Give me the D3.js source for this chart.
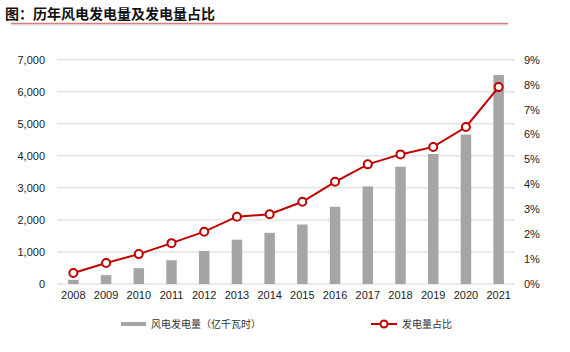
<!DOCTYPE html>
<html>
<head>
<meta charset="utf-8">
<title>历年风电发电量及发电量占比</title>
<script src="https://d3js.org/d3.v7.min.js"></script>
<style>
  body { margin: 0; background: #fff; }
  svg { display: block; }
</style>
</head>
<body>
<div id="chart"></div>
<script>
// data
var years = ["2008","2009","2010","2011","2012","2013","2014","2015","2016","2017","2018","2019","2020","2021"];
var windGen = [131, 276, 494, 741, 1030, 1383, 1598, 1856, 2409, 3046, 3660, 4057, 4665, 6526];
var windShare = [0.44, 0.84, 1.2, 1.64, 2.1, 2.7, 2.8, 3.3, 4.1, 4.8, 5.2, 5.5, 6.3, 7.9];
var leftTicks = [0, 1000, 2000, 3000, 4000, 5000, 6000, 7000];
var rightTicks = [0, 1, 2, 3, 4, 5, 6, 7, 8, 9];

var W = 570, H = 352;
var plotL = 57, plotR = 515, plotT = 59.7, plotB = 284;
var red = "#c00000", gray = "#a5a5a5", grid = "#e3e3e3";
var numFont = "'Liberation Sans', Arial, sans-serif";
var cjkFont = "'Noto Sans CJK SC', sans-serif";

var svg = d3.select("#chart").append("svg")
  .attr("width", W)
  .attr("height", H);

// title + red underline
svg.append("text")
  .attr("x", 5).attr("y", 19)
  .attr("font-family", cjkFont)
  .attr("font-weight", "bold")
  .attr("font-size", 14)
  .attr("fill", "#111")
  .text("图：历年风电发电量及发电量占比");
svg.append("line")
  .attr("x1", 11).attr("x2", 508)
  .attr("y1", 25).attr("y2", 25)
  .attr("stroke", "#ececec").attr("stroke-width", 2);
svg.append("line")
  .attr("x1", 11).attr("x2", 508)
  .attr("y1", 23.5).attr("y2", 23.5)
  .attr("stroke", "#d9807f").attr("stroke-width", 1.5);

// scales
var x = d3.scaleBand().domain(years).range([plotL, plotR]);
var y = d3.scaleLinear().domain([0, 7000]).range([plotB, plotT]);
var y2 = d3.scaleLinear().domain([0, 9]).range([plotB, plotT]);

// gridlines
svg.append("g").selectAll("line")
  .data(leftTicks)
  .enter().append("line")
  .attr("x1", plotL).attr("x2", plotR)
  .attr("y1", function(d) { return y(d); })
  .attr("y2", function(d) { return y(d); })
  .attr("stroke", grid)
  .attr("stroke-width", 1.5);

// left axis
var yAxis = svg.append("g")
  .attr("transform", "translate(" + 45 + ",0)")
  .call(d3.axisLeft(y).tickValues(leftTicks).tickSize(0).tickPadding(0)
    .tickFormat(d3.format(",")));
yAxis.select(".domain").remove();
yAxis.selectAll("text")
  .attr("font-family", numFont).attr("font-size", 11).attr("fill", "#222");

// right axis
var y2Axis = svg.append("g")
  .attr("transform", "translate(" + 524 + ",0)")
  .call(d3.axisRight(y2).tickValues(rightTicks).tickSize(0).tickPadding(0)
    .tickFormat(function(d) { return d + "%"; }));
y2Axis.select(".domain").remove();
y2Axis.selectAll("text")
  .attr("font-family", numFont).attr("font-size", 11).attr("fill", "#222");

// x axis
var xAxis = svg.append("g")
  .attr("transform", "translate(0," + (plotB + 7) + ")")
  .call(d3.axisBottom(x).tickSize(0).tickPadding(0));
xAxis.select(".domain").remove();
xAxis.selectAll("text")
  .attr("font-family", numFont).attr("font-size", 11).attr("fill", "#222");

// bars
var barW = 10.5;
svg.append("g").selectAll("rect")
  .data(windGen)
  .enter().append("rect")
  .attr("x", function(d, i) { return x(years[i]) + x.bandwidth() / 2 - barW / 2; })
  .attr("y", function(d) { return y(d); })
  .attr("width", barW)
  .attr("height", function(d) { return plotB - y(d); })
  .attr("fill", gray);

// share line
var line = d3.line()
  .x(function(d, i) { return x(years[i]) + x.bandwidth() / 2; })
  .y(function(d) { return y2(d); });
svg.append("path")
  .attr("d", line(windShare))
  .attr("fill", "none")
  .attr("stroke", red)
  .attr("stroke-width", 2);
svg.append("g").selectAll("circle")
  .data(windShare)
  .enter().append("circle")
  .attr("cx", function(d, i) { return x(years[i]) + x.bandwidth() / 2; })
  .attr("cy", function(d) { return y2(d); })
  .attr("r", 4)
  .attr("fill", "#fff")
  .attr("stroke", red)
  .attr("stroke-width", 2);

// legend
var lg = svg.append("g");
lg.append("rect")
  .attr("x", 121).attr("y", 322).attr("width", 25).attr("height", 4)
  .attr("fill", gray);
lg.append("text")
  .attr("x", 151).attr("y", 328)
  .attr("font-family", cjkFont).attr("font-size", 10).attr("fill", "#333")
  .text("风电发电量（亿千瓦时）");
lg.append("line")
  .attr("x1", 371).attr("x2", 397).attr("y1", 324).attr("y2", 324)
  .attr("stroke", red).attr("stroke-width", 2);
lg.append("circle")
  .attr("cx", 384).attr("cy", 324).attr("r", 3.5)
  .attr("fill", "#fff").attr("stroke", red).attr("stroke-width", 2);
lg.append("text")
  .attr("x", 402).attr("y", 328)
  .attr("font-family", cjkFont).attr("font-size", 10).attr("fill", "#333")
  .text("发电量占比");
</script>
</body>
</html>
